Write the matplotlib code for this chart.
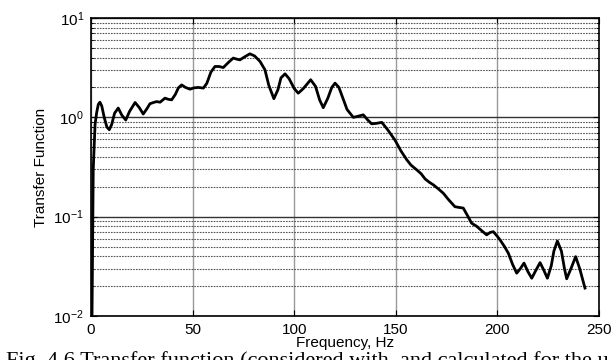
import matplotlib
matplotlib.use("Agg")
import matplotlib.pyplot as plt
from matplotlib.ticker import LogLocator, FixedLocator

plt.rcParams['font.family'] = ['Liberation Sans', 'DejaVu Sans']
plt.rcParams['mathtext.fontset'] = 'custom'
plt.rcParams['mathtext.rm'] = 'Liberation Sans'

# Transfer function magnitude vs frequency
freq_hz = [0.5, 1.1, 2.0, 2.8, 3.6, 4.4, 5.3, 6.5, 7.8, 9.0, 10.2, 11.6, 13.4, 15.2,
           17.1, 19.0, 21.7, 23.8, 25.7, 27.5, 29.0, 30.7, 32.3, 34.0, 36.4, 38.0,
           39.7, 41.5, 43.0, 44.6, 46.5, 48.7, 50.7, 52.8, 55.3, 57.0, 59.0, 61.0,
           63.0, 65.1, 67.5, 70.0, 71.8, 73.3, 75.5, 78.2, 80.5, 83.2, 85.6, 87.5,
           90.0, 92.0, 93.5, 95.5, 97.5, 100.0, 102.0, 104.5, 108.1, 110.5, 112.5,
           114.3, 116.5, 118.5, 120.1, 122.0, 124.0, 126.0, 129.1, 131.0, 134.0,
           136.0, 138.1, 140.5, 143.1, 146.0, 149.6, 152.5, 155.4, 157.5, 160.3,
           162.5, 164.4, 166.5, 168.5, 171.0, 173.4, 176.0, 179.1, 181.0, 183.2,
           185.0, 187.3, 189.8, 192.0, 194.7, 196.5, 198.0, 199.8, 201.3, 203.5,
           205.4, 207.5, 209.5, 211.3, 213.1, 215.0, 216.9, 219.0, 221.0, 222.8,
           224.6, 226.5, 227.8, 229.5, 231.5, 233.0, 234.1, 236.2, 238.5, 240.5,
           243.1]
transfer = [0.010, 0.30, 0.85, 1.12, 1.35, 1.42, 1.30, 1.0, 0.80, 0.75, 0.85, 1.10,
            1.24, 1.05, 0.94, 1.15, 1.41, 1.25, 1.08, 1.22, 1.37, 1.41, 1.44, 1.42,
            1.56, 1.52, 1.50, 1.70, 1.98, 2.12, 2.00, 1.92, 1.98, 2.00, 1.97, 2.20,
            2.85, 3.25, 3.25, 3.17, 3.55, 3.95, 3.85, 3.79, 4.05, 4.36, 4.15, 3.65,
            3.01, 2.10, 1.54, 1.90, 2.50, 2.74, 2.45, 1.95, 1.75, 1.95, 2.39, 2.05,
            1.50, 1.25, 1.55, 2.00, 2.21, 2.00, 1.55, 1.20, 1.00, 1.02, 1.06, 0.95,
            0.86, 0.87, 0.89, 0.75, 0.59, 0.46, 0.374, 0.33, 0.296, 0.27, 0.240,
            0.222, 0.209, 0.19, 0.172, 0.148, 0.126, 0.124, 0.122, 0.105, 0.086,
            0.080, 0.073, 0.0656, 0.0695, 0.0706, 0.064, 0.0584, 0.050, 0.0428,
            0.033, 0.0270, 0.030, 0.0341, 0.028, 0.0240, 0.029, 0.0345, 0.029,
            0.0240, 0.032, 0.045, 0.0569, 0.045, 0.030, 0.0237, 0.030, 0.0396,
            0.030, 0.0191]

x_ticks = [0, 50, 100, 150, 200, 250]

fig = plt.figure(figsize=(6.12, 3.6), dpi=100)
ax = fig.add_axes([91 / 612, 1 - 316 / 360, (599 - 91) / 612, (316 - 18) / 360])

ax.plot(freq_hz, transfer, color='black', lw=2.0, solid_joinstyle='round')

ax.set_yscale('log')
ax.set_xlim(0, 250)
ax.set_ylim(1e-2, 1e1)
ax.xaxis.set_major_locator(FixedLocator(x_ticks))
ax.yaxis.set_major_locator(LogLocator(base=10, numticks=10))
ax.yaxis.set_minor_locator(LogLocator(base=10, subs=range(2, 10), numticks=10))

ax.grid(True, which='major', axis='x', color='#999999', lw=1.0, ls='-')
ax.grid(True, which='major', axis='y', color='#333333', lw=1.0, ls='-')
ax.grid(True, which='minor', axis='y', color='#555555', lw=0.8, ls=(0, (1.5, 1.0)))
ax.set_axisbelow(True)

ax.tick_params(which='both', direction='in', top=True, right=True,
               labelsize=11, colors='black', pad=5)
ax.tick_params(which='major', length=4)
ax.tick_params(which='minor', length=2)
for s in ax.spines.values():
    s.set_linewidth(1.2)

ax.set_xlabel('Frequency, Hz', fontsize=11, labelpad=-1)
ax.set_ylabel('Transfer Function', fontsize=11, labelpad=4)

# Figure caption along the bottom edge
fig.text(6 / 612, 1 - 351 / 360,
         'Fig. 4.6 Transfer function (considered with  and calculated for the u',
         family=['Liberation Serif', 'DejaVu Serif'], fontsize=16, va='top', ha='left')

fig.savefig('out.png', dpi=100)
